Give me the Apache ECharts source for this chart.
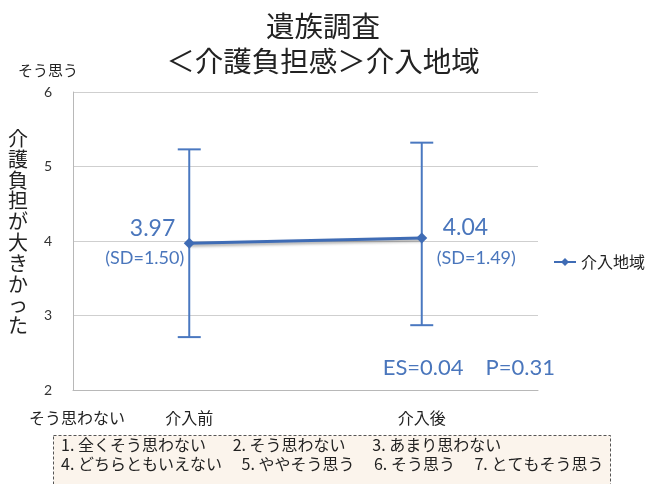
<!DOCTYPE html>
<html>
<head>
<meta charset="utf-8">
<script src="https://cdn.jsdelivr.net/npm/echarts@6/dist/echarts.min.js"></script>
<style>
  html, body { margin: 0; padding: 0; background: #fff; }
  #chart { width: 646px; height: 484px; }
</style>
</head>
<body>
<div id="chart"></div>
<script>
// Caregiver burden score, intervention region (mean with SD labels)
const categories = ['介入前', '介入後'];
const means = [3.97, 4.04];
const sds = [1.50, 1.49];
const barLow = [2.71, 2.87];
const barHigh = [5.23, 5.32];
const yTicks = [2, 3, 4, 5, 6];
const seriesName = '介入地域';
const titleLines = ['遺族調査', '＜介護負担感＞介入地域'];
const yAxisTitle = '介護負担が大きかった';
const topAnchor = 'そう思う';
const bottomAnchor = 'そう思わない';
const statsText = 'ES=0.04　P=0.31';
const scaleLines = [
  '1. 全くそう思わない　   2. そう思わない　   3. あまり思わない',
  '4. どちらともいえない　 5. ややそう思う　 6. そう思う　 7. とてもそう思う'
];

const JP = '"Noto Sans CJK JP", "Noto Sans", sans-serif';
const NUM = 'Lato, "Open Sans", "Noto Sans CJK JP", sans-serif';
const BLUE = '#3f6cb5';
const LABEL_BLUE = '#4a76bc';

const chart = echarts.init(document.getElementById('chart'), null, { renderer: 'canvas' });

// per-point text offsets relative to the plotted mean
const labelLayout = [
  { align: 'right', mean: [-14, -15], sd: [-5, 15] },
  { align: 'left', mean: [21, -10], sd: [15, 20] }
];

chart.setOption({
  backgroundColor: '#ffffff',
  animation: false,
  title: {
    text: titleLines.join('\n'),
    left: 'center',
    top: 4,
    textStyle: { fontFamily: JP, fontSize: 28.5, fontWeight: 'normal', color: '#222', lineHeight: 35 }
  },
  legend: {
    data: [seriesName],
    left: 548,
    top: 249,
    itemWidth: 22,
    itemHeight: 10,
    textStyle: { fontFamily: JP, fontSize: 16, color: '#222' }
  },
  grid: { left: 73, right: 108, top: 92, bottom: 94 },
  xAxis: {
    type: 'category',
    data: categories,
    boundaryGap: true,
    axisLine: { lineStyle: { color: '#b8b8b8' } },
    axisTick: { show: false },
    axisLabel: { fontFamily: JP, fontSize: 16, color: '#222', margin: 20 }
  },
  yAxis: {
    type: 'value',
    min: yTicks[0],
    max: yTicks[yTicks.length - 1],
    interval: 1,
    axisLine: { show: true, lineStyle: { color: '#b8b8b8' } },
    axisTick: { show: false },
    splitLine: { lineStyle: { color: '#cfcfcf' } },
    axisLabel: { fontFamily: NUM, fontSize: 14, color: '#333', margin: 21 }
  },
  series: [
    {
      name: seriesName,
      type: 'line',
      data: means,
      symbol: 'diamond',
      symbolSize: 11,
      color: BLUE,
      lineStyle: { width: 3, color: BLUE, shadowColor: 'rgba(0,0,0,0.35)', shadowBlur: 3, shadowOffsetY: 2 },
      itemStyle: { color: BLUE },
      z: 3
    },
    {
      // error bars
      type: 'custom',
      data: categories.map((c, i) => [i, barLow[i], barHigh[i]]),
      renderItem: function (params, api) {
        const i = api.value(0);
        const lo = api.coord([i, api.value(1)]);
        const hi = api.coord([i, api.value(2)]);
        const half = 11.5;
        const style = { stroke: '#4a78c0', lineWidth: 2 };
        return {
          type: 'group',
          children: [
            { type: 'line', shape: { x1: lo[0], y1: lo[1], x2: hi[0], y2: hi[1] }, style },
            { type: 'line', shape: { x1: hi[0] - half, y1: hi[1], x2: hi[0] + half, y2: hi[1] }, style },
            { type: 'line', shape: { x1: lo[0] - half, y1: lo[1], x2: lo[0] + half, y2: lo[1] }, style }
          ]
        };
      },
      z: 2,
      silent: true
    },
    {
      // mean and SD labels
      type: 'custom',
      data: categories.map((c, i) => [i, means[i], sds[i]]),
      renderItem: function (params, api) {
        const i = api.value(0);
        const p = api.coord([i, api.value(1)]);
        const lay = labelLayout[i];
        return {
          type: 'group',
          children: [
            {
              type: 'text',
              style: {
                x: p[0] + lay.mean[0], y: p[1] + lay.mean[1],
                text: api.value(1).toFixed(2),
                align: lay.align, verticalAlign: 'middle',
                font: '23px ' + NUM, fill: LABEL_BLUE
              }
            },
            {
              type: 'text',
              style: {
                x: p[0] + lay.sd[0], y: p[1] + lay.sd[1],
                text: '(SD=' + api.value(2).toFixed(2) + ')',
                align: lay.align, verticalAlign: 'middle',
                font: '18px ' + NUM, fill: LABEL_BLUE
              }
            }
          ]
        };
      },
      z: 4,
      silent: true
    }
  ],
  graphic: [
    {
      type: 'text',
      style: {
        x: 18, y: 232,
        text: yAxisTitle.split('').join('\n'),
        font: '20px ' + JP, lineHeight: 20.8, fill: '#222',
        align: 'center', verticalAlign: 'middle'
      }
    },
    {
      type: 'text',
      style: { x: 48, y: 70, text: topAnchor, font: '15px ' + JP, fill: '#222', align: 'center', verticalAlign: 'middle' }
    },
    {
      type: 'text',
      style: { x: 77, y: 418, text: bottomAnchor, font: '16px ' + JP, fill: '#222', align: 'center', verticalAlign: 'middle' }
    },
    {
      type: 'text',
      style: { x: 555, y: 368, text: statsText, font: '22px ' + NUM, fill: LABEL_BLUE, align: 'right', verticalAlign: 'middle' }
    },
    {
      type: 'rect',
      shape: { x: 53.5, y: 435.5, width: 557, height: 60 },
      style: { fill: '#fbf4ec', stroke: '#555', lineWidth: 1, lineDash: [3, 2] }
    },
    {
      type: 'text',
      style: { x: 61, y: 445, text: scaleLines[0], font: '16px ' + JP, fill: '#222', verticalAlign: 'middle' }
    },
    {
      type: 'text',
      style: { x: 61, y: 464, text: scaleLines[1], font: '16px ' + JP, fill: '#222', verticalAlign: 'middle' }
    }
  ]
});
</script>
</body>
</html>
